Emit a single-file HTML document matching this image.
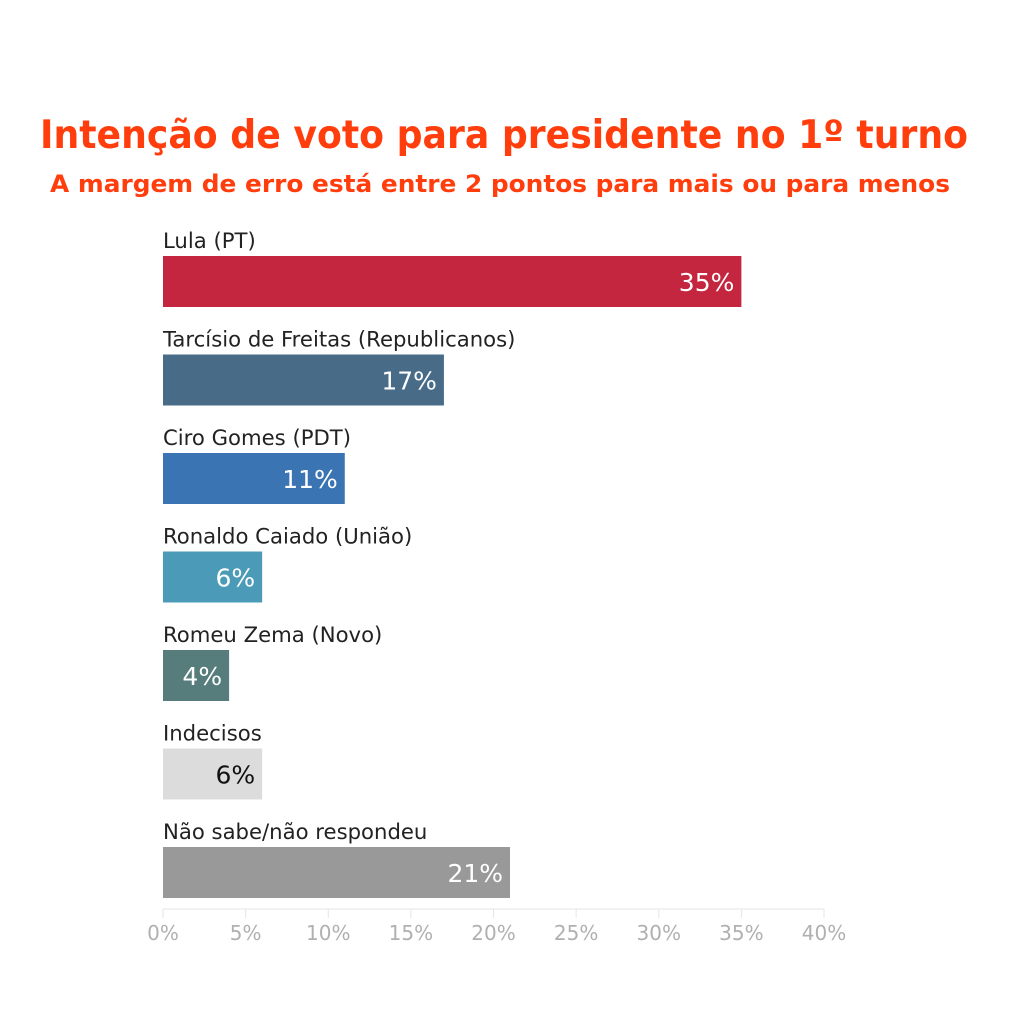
<!DOCTYPE html>
<html><head><meta charset="utf-8"><style>
body{margin:0;background:#fff;}
svg{display:block;}
</style></head><body>
<svg id="chart" width="1024" height="1024" xmlns="http://www.w3.org/2000/svg">
<text x="40" y="148" textLength="928" lengthAdjust="spacingAndGlyphs" font-family="DejaVu Sans, sans-serif" font-weight="bold" font-size="39" fill="#ff3d0d">Intenção de voto para presidente no 1º turno</text>
<text x="50" y="192" textLength="900" lengthAdjust="spacingAndGlyphs" font-family="DejaVu Sans, sans-serif" font-weight="bold" font-size="24" fill="#ff3d0d">A margem de erro está entre 2 pontos para mais ou para menos</text>
<g id="bars"></g>
<g id="axis"></g>
</svg>
<script>
const categories=["Lula (PT)","Tarcísio de Freitas (Republicanos)","Ciro Gomes (PDT)","Ronaldo Caiado (União)","Romeu Zema (Novo)","Indecisos","Não sabe/não respondeu"];
const values=[35,17,11,6,4,6,21];
const colors=["#c4253f","#486b87","#3b74b3","#4b9bb8","#567c7b","#dcdcdc","#999999"];
const ticks=[0,5,10,15,20,25,30,35,40];
const tickLabels=["0%","5%","10%","15%","20%","25%","30%","35%","40%"];
const NS="http://www.w3.org/2000/svg";
const x0=163,x1=824,xmax=40;
function xs(v){return x0+(x1-x0)*v/xmax;}
function ys(i){return 256+i*98.5;}
const bh=51;
const bars=document.getElementById('bars');
function mk(tag,attrs,parent){const e=document.createElementNS(NS,tag);for(const k in attrs)e.setAttribute(k,attrs[k]);parent.appendChild(e);return e;}
categories.forEach((c,i)=>{
  const y=ys(i);
  const lab=mk('text',{x:x0,y:y-8,'font-family':'DejaVu Sans, sans-serif','font-size':'21.2',fill:'#222'},bars);
  lab.textContent=c;
  
  
  const r=mk('rect',{x:x0,y:y,width:xs(values[i])-x0,height:bh,fill:colors[i]},bars);
  
  
  const vt=mk('text',{x:xs(values[i])-7,y:y+35,'text-anchor':'end','font-family':'DejaVu Sans, sans-serif','font-size':'25',fill:i===5?'#111':'#fff'},bars);
  vt.textContent=values[i]+'%';
  
  
});
const axis=document.getElementById('axis');
const line=mk('line',{x1:x0,x2:x1,y1:909,y2:909,stroke:'#e6e6e6','stroke-width':1},axis);


ticks.forEach((t,i)=>{
  const tk=mk('line',{x1:xs(t),x2:xs(t),y1:909,y2:918,stroke:'#e6e6e6','stroke-width':1},axis);
  
  
  const tl=mk('text',{x:xs(t),y:940,'text-anchor':'middle','font-family':'DejaVu Sans, sans-serif','font-size':'20',fill:'#b0b0b0'},axis);
  tl.textContent=tickLabels[i];
  
  
});
</script>
</body></html>
